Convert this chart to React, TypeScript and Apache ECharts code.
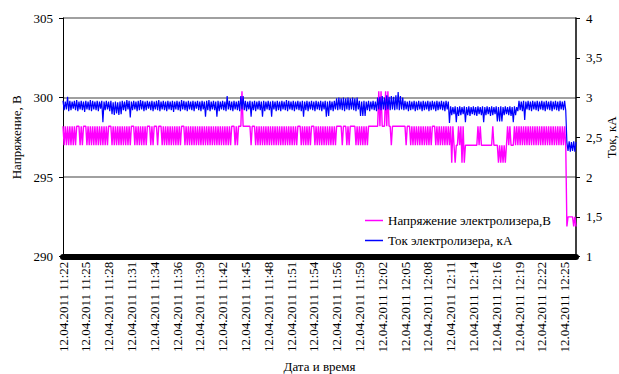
import React, { useEffect, useRef } from "react";
import * as echarts from "echarts";

const tickLabels = [
  "12.04.2011 11:22", "12.04.2011 11:25", "12.04.2011 11:28", "12.04.2011 11:31",
  "12.04.2011 11:34", "12.04.2011 11:36", "12.04.2011 11:39", "12.04.2011 11:42",
  "12.04.2011 11:45", "12.04.2011 11:48", "12.04.2011 11:51", "12.04.2011 11:54",
  "12.04.2011 11:56", "12.04.2011 11:59", "12.04.2011 12:02", "12.04.2011 12:05",
  "12.04.2011 12:08", "12.04.2011 12:11", "12.04.2011 12:14", "12.04.2011 12:16",
  "12.04.2011 12:19", "12.04.2011 12:22", "12.04.2011 12:25",
];
const samplesPerTick = 20;

const voltage = [
  298.2, 297, 298.2, 297, 298.2, 297, 298.2, 297, 298.2, 297,
  298.2, 297, 298.2, 298.2, 298.2, 297, 298.2, 297, 298.2, 298.2,
  298.2, 297, 298.2, 297, 298.2, 297, 298.2, 297, 298.2, 297,
  298.2, 297, 298.2, 297, 298.2, 297, 298.2, 297, 298.2, 297,
  298.2, 298.2, 298.2, 297, 298.2, 297, 298.2, 297, 298.2, 297,
  298.2, 297, 298.2, 297, 298.2, 297, 298.2, 297, 298.2, 297,
  298.2, 298.2, 298.2, 297, 298.2, 297, 298.2, 297, 298.2, 297,
  298.2, 297, 298.2, 297, 298.2, 298.2, 298.2, 297, 298.2, 297,
  298.2, 298.2, 298.2, 297, 298.2, 298.2, 298.2, 297, 298.2, 297,
  298.2, 297, 298.2, 297, 298.2, 297, 298.2, 297, 298.2, 297,
  298.2, 297, 298.2, 297, 298.2, 298.2, 298.2, 297, 298.2, 297,
  298.2, 297, 298.2, 297, 298.2, 297, 298.2, 297, 298.2, 297,
  298.2, 297, 298.2, 297, 298.2, 297, 298.2, 297, 298.2, 297,
  298.2, 297, 298.2, 297, 298.2, 297, 298.2, 297, 298.2, 297,
  298.2, 297, 298.2, 297, 298.2, 297, 298.2, 297, 298.2, 298.2,
  298.2, 297, 298.2, 297, 298.2, 298.2, 298.2, 300.4, 298.2, 298.2,
  298.2, 298.2, 298.2, 298.2, 298.2, 297, 298.2, 298.2, 298.2, 297,
  298.2, 297, 298.2, 297, 298.2, 297, 298.2, 297, 298.2, 297,
  298.2, 297, 298.2, 297, 298.2, 297, 298.2, 297, 298.2, 297,
  298.2, 297, 298.2, 297, 298.2, 297, 298.2, 297, 298.2, 297,
  298.2, 297, 298.2, 297, 298.2, 297, 298.2, 298.2, 298.2, 297,
  298.2, 297, 298.2, 297, 298.2, 297, 298.2, 297, 298.2, 298.2,
  298.2, 297, 298.2, 297, 298.2, 297, 298.2, 297, 298.2, 297,
  298.2, 297, 298.2, 297, 298.2, 297, 298.2, 297, 298.2, 297,
  298.2, 298.2, 298.2, 298.2, 298.2, 297, 298.2, 298.2, 298.2, 297,
  298.2, 297, 298.2, 298.2, 298.2, 298.2, 298.2, 297, 298.2, 297,
  298.2, 297, 298.2, 297, 298.2, 297, 298.2, 297, 298.2, 298.2,
  298.2, 298.2, 298.2, 298.2, 298.2, 298.2, 298.2, 300.4, 298.2, 300.4,
  298.2, 298.2, 298.2, 300.4, 298.2, 300.4, 298.2, 298.2, 297, 298.2,
  298.2, 298.2, 298.2, 298.2, 298.2, 298.2, 298.2, 298.2, 298.2, 298.2,
  298.2, 297, 298.2, 298.2, 298.2, 297, 298.2, 297, 298.2, 297,
  298.2, 297, 298.2, 297, 298.2, 297, 298.2, 297, 298.2, 297,
  298.2, 297, 298.2, 297, 298.2, 298.2, 298.2, 297, 298.2, 297,
  298.2, 297, 298.2, 297, 298.2, 297, 298.2, 297, 298.2, 297,
  298.2, 295.9, 298.2, 297, 295.9, 297, 297, 298.2, 297, 298.2,
  295.9, 298.2, 295.9, 297, 297, 297, 297, 297, 297, 297,
  297, 297, 297, 297, 298.2, 297, 298.2, 297, 297, 297,
  297, 297, 297, 297, 297, 297, 297, 298.2, 297, 297,
  297, 297, 295.9, 297, 295.9, 297, 295.9, 297, 295.9, 297,
  298.2, 297, 298.2, 297, 297, 297, 298.2, 297, 298.2, 297,
  298.2, 297, 298.2, 297, 298.2, 297, 298.2, 297, 298.2, 297,
  298.2, 297, 298.2, 297, 298.2, 297, 298.2, 297, 298.2, 297,
  298.2, 297, 298.2, 297, 298.2, 297, 298.2, 297, 298.2, 297,
  298.2, 297, 298.2, 297, 298.2, 297, 298.2, 297, 298.2, 297,
  298.2, 297, 291.9, 292.5, 292.5, 292.5, 292.5, 292.5, 291.9, 292.5,
  291.9,
];

const current = [
  2.96, 2.84, 2.95, 2.85, 3.01, 2.83, 2.96, 2.84, 2.95, 2.86,
  2.96, 2.84, 2.97, 2.83, 2.95, 2.85, 2.96, 2.84, 2.95, 2.82,
  2.96, 2.85, 2.95, 2.84, 2.97, 2.83, 2.96, 2.85, 2.95, 2.84,
  2.96, 2.83, 2.95, 2.86, 2.96, 2.69, 2.95, 2.84, 2.96, 2.85,
  2.95, 2.83, 2.96, 2.79, 2.94, 2.78, 2.95, 2.80, 2.94, 2.78,
  2.95, 2.79, 2.96, 2.84, 2.95, 2.83, 2.97, 2.85, 2.96, 2.75,
  2.95, 2.84, 2.96, 2.85, 2.95, 2.83, 2.96, 2.84, 2.97, 2.85,
  2.96, 2.83, 2.95, 2.84, 2.96, 2.86, 2.95, 2.84, 2.96, 2.83,
  2.95, 2.85, 2.96, 2.84, 2.97, 2.83, 2.95, 2.85, 2.96, 2.84,
  2.95, 2.83, 2.96, 2.85, 2.95, 2.84, 2.96, 2.82, 2.95, 2.85,
  2.96, 2.84, 2.95, 2.83, 2.97, 2.85, 2.96, 2.84, 2.95, 2.83,
  2.96, 2.85, 2.95, 2.84, 2.96, 2.83, 2.95, 2.86, 2.96, 2.84,
  2.95, 2.83, 2.96, 2.85, 2.95, 2.76, 2.96, 2.84, 2.97, 2.83,
  2.95, 2.85, 2.96, 2.84, 2.95, 2.76, 2.96, 2.83, 2.95, 2.85,
  2.96, 2.84, 2.95, 2.83, 3.02, 2.85, 2.96, 2.84, 2.95, 2.83,
  2.96, 2.85, 2.95, 2.84, 2.96, 2.83, 3.02, 2.85, 3.02, 2.84,
  2.96, 2.83, 2.95, 2.85, 2.96, 2.76, 2.95, 2.84, 2.96, 2.83,
  2.95, 2.85, 2.96, 2.84, 2.95, 2.76, 2.96, 2.83, 2.95, 2.85,
  2.96, 2.84, 2.95, 2.76, 2.96, 2.85, 2.95, 2.83, 2.96, 2.84,
  2.95, 2.83, 2.96, 2.85, 2.95, 2.84, 2.97, 2.83, 2.96, 2.85,
  2.95, 2.84, 2.96, 2.83, 2.95, 2.85, 2.96, 2.84, 2.95, 2.83,
  2.96, 2.76, 2.95, 2.84, 2.96, 2.83, 2.95, 2.85, 2.96, 2.84,
  2.95, 2.83, 2.96, 2.85, 2.95, 2.84, 2.96, 2.83, 2.95, 2.85,
  2.96, 2.76, 2.95, 2.77, 2.96, 2.84, 2.95, 2.83, 2.96, 2.85,
  2.99, 2.84, 3.00, 2.85, 2.99, 2.84, 3.00, 2.83, 2.99, 2.85,
  3.00, 2.84, 2.99, 2.85, 3.00, 2.84, 2.99, 2.83, 3.00, 2.85,
  2.96, 2.77, 2.95, 2.77, 2.96, 2.77, 2.95, 2.84, 2.96, 2.83,
  2.95, 2.85, 2.96, 2.84, 2.95, 2.83, 3.00, 2.85, 3.01, 2.84,
  3.02, 2.85, 3.00, 2.84, 3.03, 2.85, 3.01, 2.84, 3.02, 2.85,
  3.01, 2.84, 3.03, 2.85, 3.07, 2.84, 3.02, 2.85, 3.00, 2.84,
  2.96, 2.85, 2.95, 2.83, 2.96, 2.84, 2.95, 2.85, 2.96, 2.83,
  2.95, 2.84, 2.96, 2.85, 2.95, 2.83, 2.96, 2.84, 2.95, 2.85,
  2.96, 2.83, 2.95, 2.84, 2.96, 2.85, 2.95, 2.83, 2.96, 2.84,
  2.95, 2.85, 2.96, 2.84, 2.95, 2.83, 2.96, 2.85, 2.95, 2.68,
  2.89, 2.78, 2.88, 2.79, 2.89, 2.69, 2.88, 2.77, 2.89, 2.78,
  2.88, 2.79, 2.89, 2.69, 2.88, 2.78, 2.89, 2.77, 2.88, 2.79,
  2.89, 2.78, 2.88, 2.77, 2.89, 2.79, 2.88, 2.78, 2.89, 2.69,
  2.88, 2.78, 2.89, 2.79, 2.88, 2.77, 2.89, 2.78, 2.88, 2.79,
  2.89, 2.70, 2.88, 2.70, 2.89, 2.70, 2.88, 2.78, 2.89, 2.79,
  2.88, 2.78, 2.89, 2.77, 2.88, 2.69, 2.89, 2.78, 2.88, 2.83,
  2.96, 2.84, 2.95, 2.83, 2.96, 2.72, 2.95, 2.85, 2.96, 2.84,
  2.95, 2.83, 2.96, 2.85, 2.95, 2.84, 2.96, 2.83, 2.95, 2.85,
  2.96, 2.84, 2.95, 2.83, 2.96, 2.85, 2.95, 2.84, 2.96, 2.83,
  2.95, 2.85, 2.96, 2.84, 2.95, 2.83, 2.96, 2.85, 2.95, 2.84,
  2.96, 2.84, 2.44, 2.33, 2.45, 2.32, 2.44, 2.33, 2.45, 2.32,
  2.44,
];

const voltageName = "Напряжение электролизера,В";
const currentName = "Ток электролизера, кА";

const FONT = "Liberation Serif, Times New Roman, serif";

export default function App() {
  const ref = useRef<HTMLDivElement>(null);

  useEffect(() => {
    if (!ref.current) return;
    const chart = echarts.init(ref.current, undefined, { renderer: "svg" });
    const categories = voltage.map((_, i) =>
      i % samplesPerTick === 0 ? tickLabels[i / samplesPerTick] : "s" + i
    );
    chart.setOption({
      animation: false,
      backgroundColor: "#fff",
      textStyle: { fontFamily: FONT },
      grid: {
        left: 63,
        right: 43,
        top: 18,
        bottom: 117.3,
        containLabel: false,
        outerBoundsMode: "none",
      },
      legend: {
        orient: "vertical",
        left: 360,
        top: 209,
        icon: "rect",
        itemWidth: 18,
        itemHeight: 1.5,
        itemGap: 7,
        textStyle: { fontFamily: FONT, fontSize: 13, color: "#000" },
        data: [voltageName, currentName],
      },
      xAxis: {
        type: "category",
        data: categories,
        boundaryGap: false,
        name: "Дата и время",
        nameLocation: "middle",
        nameGap: 102,
        nameTextStyle: { fontFamily: FONT, fontSize: 13, color: "#000" },
        axisLine: { lineStyle: { color: "#000", width: 6 } },
        axisTick: { show: false },
        splitLine: { show: false },
        axisLabel: {
          interval: samplesPerTick - 1,
          rotate: 90,
          margin: 5,
          fontFamily: FONT,
          fontSize: 13,
          color: "#000",
        },
      },
      yAxis: [
        {
          type: "value",
          min: 290,
          max: 305,
          interval: 5,
          position: "left",
          name: "Напряжение, В",
          nameLocation: "middle",
          nameGap: 37,
          nameRotate: 90,
          nameTextStyle: { fontFamily: FONT, fontSize: 13, color: "#000" },
          axisLine: { show: true, lineStyle: { color: "#000", width: 1 } },
          axisTick: { show: true, length: 4, lineStyle: { color: "#000" } },
          axisLabel: { margin: 10, fontFamily: FONT, fontSize: 13, color: "#000" },
          splitLine: { show: true, lineStyle: { color: "#808080", width: 1.5 } },
        },
        {
          type: "value",
          min: 1,
          max: 4,
          interval: 0.5,
          position: "right",
          name: "Ток, кА",
          nameLocation: "middle",
          nameGap: 29,
          nameMoveOverlap: false,
          nameRotate: 90,
          nameTextStyle: { fontFamily: FONT, fontSize: 13, color: "#000" },
          axisLine: { show: true, lineStyle: { color: "#000", width: 1.5 } },
          axisTick: { show: true, length: 4, lineStyle: { color: "#000" } },
          axisLabel: {
            margin: 10,
            fontFamily: FONT,
            fontSize: 13,
            color: "#000",
            formatter: (v: number) => String(v).replace(".", ","),
          },
          splitLine: { show: false },
        },
      ],
      series: [
        {
          name: voltageName,
          type: "line",
          yAxisIndex: 0,
          data: voltage,
          symbol: "none",
          lineStyle: { color: "#FF00FF", width: 1.4 },
          itemStyle: { color: "#FF00FF" },
        },
        {
          name: currentName,
          type: "line",
          yAxisIndex: 1,
          data: current,
          symbol: "none",
          lineStyle: { color: "#0000FF", width: 1.2 },
          itemStyle: { color: "#0000FF" },
        },
      ],
    });
    return () => chart.dispose();
  }, []);

  return (
    <div
      ref={ref}
      style={{ position: "fixed", left: 0, top: 0, width: 619, height: 374 }}
    />
  );
}
